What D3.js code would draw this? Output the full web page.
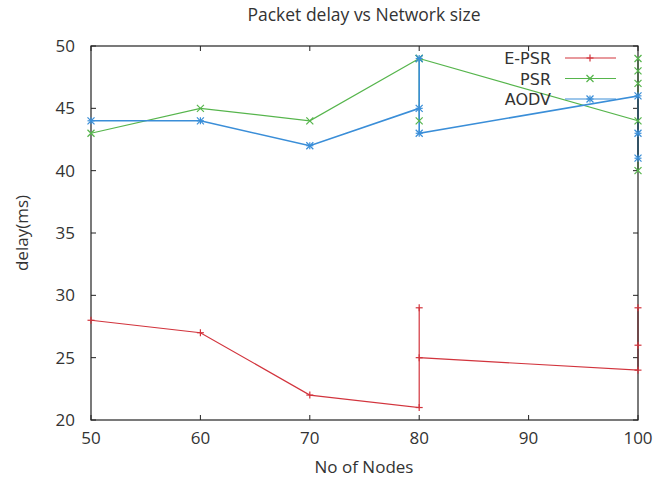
<!DOCTYPE html>
<html lang="en">
<head>
<meta charset="UTF-8">
<title>Packet delay vs Network size</title>
<script src="https://d3js.org/d3.v7.min.js"></script>
<style>
    body { margin: 0; background: #fff; }
    text { font-family: "Open Sans", "DejaVu Sans", sans-serif; fill: #333; }
    .tick-label { font-size: 17px; }
    .title { font-size: 17.5px; }
    .axis-title { font-size: 17px; }
    .legend-label { font-family: "DejaVu Sans", sans-serif; font-size: 16px; }
</style>
</head>
<body>
<svg width="665" height="480"></svg>
<script>
    // data
    const epsrX = [50, 60, 70, 80, 80, 80, 100, 100, 100];
    const epsrY = [28, 27, 22, 21, 29, 25, 24, 29, 26];
    const psrX = [50, 60, 70, 80, 80, 80, 100, 100, 100, 100, 100];
    const psrY = [43, 45, 44, 49, 44, 49, 44, 49, 48, 47, 40];
    const aodvX = [50, 60, 70, 80, 80, 80, 100, 100, 100];
    const aodvY = [44, 44, 42, 45, 49, 43, 46, 43, 41];
    const xTicks = [50, 60, 70, 80, 90, 100];
    const yTicks = [20, 25, 30, 35, 40, 45, 50];

    const series = [
        { name: 'E-PSR', xs: epsrX, ys: epsrY, color: '#d2343d', marker: 'plus' },
        { name: 'PSR', xs: psrX, ys: psrY, color: '#56b54c', marker: 'cross' },
        { name: 'AODV', xs: aodvX, ys: aodvY, color: '#3a8ed8', marker: 'star' }
    ];

    const svg = d3.select('svg');
    const pLeft = 91, pRight = 638, pTop = 46, pBottom = 420;

    const x = d3.scaleLinear().domain([50, 100]).range([pLeft, pRight]);
    const y = d3.scaleLinear().domain([20, 50]).range([pBottom, pTop]);

    // title
    svg.append('text').attr('class', 'title')
        .attr('x', 364).attr('y', 21).attr('text-anchor', 'middle')
        .text('Packet delay vs Network size');

    // ticks (gnuplot style, inward + mirrored)
    const tickLen = 5;
    const ax = svg.append('g').attr('stroke', '#222').attr('stroke-width', 1);
    xTicks.forEach(t => {
        ax.append('line').attr('x1', x(t)).attr('x2', x(t)).attr('y1', pBottom).attr('y2', pBottom - tickLen);
        ax.append('line').attr('x1', x(t)).attr('x2', x(t)).attr('y1', pTop).attr('y2', pTop + tickLen);
    });
    yTicks.forEach(t => {
        ax.append('line').attr('x1', pLeft).attr('x2', pLeft + tickLen).attr('y1', y(t)).attr('y2', y(t));
        ax.append('line').attr('x1', pRight).attr('x2', pRight - tickLen).attr('y1', y(t)).attr('y2', y(t));
    });

    svg.selectAll('.xl').data(xTicks).enter().append('text')
        .attr('class', 'tick-label')
        .attr('x', d => x(d)).attr('y', pBottom + 24)
        .attr('text-anchor', 'middle').text(d => d);
    svg.selectAll('.yl').data(yTicks).enter().append('text')
        .attr('class', 'tick-label')
        .attr('x', pLeft - 16).attr('y', d => y(d) + 6)
        .attr('text-anchor', 'end').text(d => d);

    svg.append('text').attr('class', 'axis-title')
        .attr('x', 364).attr('y', 473).attr('text-anchor', 'middle')
        .text('No of Nodes');
    svg.append('text').attr('class', 'axis-title')
        .attr('transform', 'translate(28,' + ((pTop + pBottom) / 2) + ') rotate(-90)')
        .attr('text-anchor', 'middle')
        .text('delay(ms)');

    // markers
    function marker(g, cx, cy, type, color) {
        const s = 3.5;
        const p = [];
        if (type === 'plus' || type === 'star') {
            p.push([cx - s, cy, cx + s, cy], [cx, cy - s, cx, cy + s]);
        }
        if (type === 'cross' || type === 'star') {
            p.push([cx - s, cy - s, cx + s, cy + s], [cx - s, cy + s, cx + s, cy - s]);
        }
        p.forEach(l => g.append('line')
            .attr('x1', l[0]).attr('y1', l[1]).attr('x2', l[2]).attr('y2', l[3])
            .attr('stroke', color).attr('stroke-width', 1.2));
    }

    const line = d3.line().x(d => x(d[0])).y(d => y(d[1]));

    series.forEach(s => {
        const pts = s.xs.map((v, i) => [v, s.ys[i]]);
        svg.append('path').datum(pts)
            .attr('d', line)
            .attr('fill', 'none')
            .attr('stroke', s.color)
            .attr('stroke-width', s.name === 'AODV' ? 1.6 : 1.2);
    });

    // border box
    svg.append('rect')
        .attr('x', pLeft).attr('y', pTop)
        .attr('width', pRight - pLeft).attr('height', pBottom - pTop)
        .attr('fill', 'none').attr('stroke', '#222').attr('stroke-width', 1.2);

    series.forEach(s => {
        const g = svg.append('g');
        s.xs.forEach((v, i) => marker(g, x(v), y(s.ys[i]), s.marker, s.color));
    });

    // legend
    const legend = svg.append('g');
    series.forEach((s, i) => {
        const ly = 58 + i * 20.5;
        legend.append('text').attr('class', 'legend-label')
            .attr('x', 551).attr('y', ly + 6).attr('text-anchor', 'end')
            .text(s.name);
        legend.append('line')
            .attr('x1', 565).attr('x2', 616).attr('y1', ly).attr('y2', ly)
            .attr('stroke', s.color).attr('stroke-width', 1.2);
        marker(legend, 590, ly, s.marker, s.color);
    });
</script>
</body>
</html>
